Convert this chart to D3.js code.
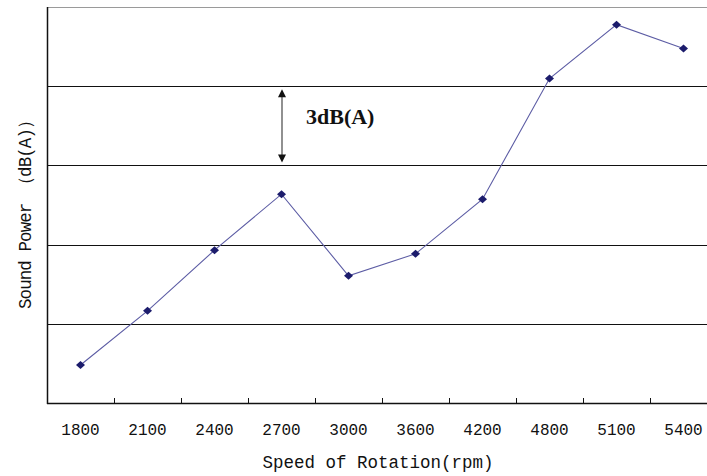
<!DOCTYPE html>
<html>
<head>
<meta charset="utf-8">
<script src="https://cdn.jsdelivr.net/npm/d3@7"></script>
<style>
  html, body { margin: 0; padding: 0; background: #fff; }
  svg { display: block; }
</style>
</head>
<body>
<svg id="chart" width="707" height="476"></svg>
<script>
// Data (relative sound power, dB(A); gridline spacing = 3 dB(A))
const categories = ["1800", "2100", "2400", "2700", "3000", "3600", "4200", "4800", "5100", "5400"];
const soundPower = [1.44, 3.49, 5.79, 7.91, 4.82, 5.65, 7.72, 12.29, 14.33, 13.43];
const gridValues = [3, 6, 9, 12];
const xTitle = "Speed of Rotation(rpm)";
const yTitle = "Sound Power （dB(A)）";
const annotationText = "3dB(A)";

const svg = d3.select("#chart");
const margin = { left: 47, top: 7, bottom: 403, right: 717 };

const x = d3.scaleBand().domain(categories).range([margin.left, margin.right]).padding(0);
const y = d3.scaleLinear().domain([0, 15]).range([margin.bottom, margin.top]);

// top border (grey)
svg.append("line")
  .attr("x1", margin.left).attr("x2", margin.right)
  .attr("y1", y(15) + 0.5).attr("y2", y(15) + 0.5)
  .attr("stroke", "#9a9a9a").attr("stroke-width", 1.2);

// gridlines
svg.append("g").selectAll("line").data(gridValues).join("line")
  .attr("x1", margin.left).attr("x2", margin.right)
  .attr("y1", d => Math.round(y(d)) + 0.5).attr("y2", d => Math.round(y(d)) + 0.5)
  .attr("stroke", "#111").attr("stroke-width", 1.2);

// x axis
const xAxis = d3.axisBottom(x).tickSize(0).tickPadding(0);
const gx = svg.append("g").attr("transform", `translate(0,${margin.bottom})`).call(xAxis);
gx.select(".domain").remove();
gx.selectAll("text")
  .attr("y", 32)
  .attr("dy", 0)
  .attr("fill", "#111")
  .style("font-family", "'Liberation Mono', monospace")
  .style("font-size", "16px");

// inward ticks at category boundaries
const boundaries = categories.slice(1).map(c => x(c));
svg.append("g").selectAll("line").data(boundaries).join("line")
  .attr("x1", d => Math.round(d) + 0.5).attr("x2", d => Math.round(d) + 0.5)
  .attr("y1", margin.bottom - 5).attr("y2", margin.bottom)
  .attr("stroke", "#111").attr("stroke-width", 1);

// axis lines
svg.append("line")
  .attr("x1", margin.left).attr("x2", margin.right)
  .attr("y1", margin.bottom + 0.5).attr("y2", margin.bottom + 0.5)
  .attr("stroke", "#111").attr("stroke-width", 1.5);
svg.append("line")
  .attr("x1", margin.left + 0.5).attr("x2", margin.left + 0.5)
  .attr("y1", margin.top).attr("y2", margin.bottom + 1)
  .attr("stroke", "#111").attr("stroke-width", 1.5);

// line
const pts = categories.map((c, i) => [x(c) + x.bandwidth() / 2, y(soundPower[i])]);
svg.append("path")
  .datum(pts)
  .attr("d", d3.line())
  .attr("fill", "none")
  .attr("stroke", "#5c5ca4")
  .attr("stroke-width", 1.1);

// markers (diamonds)
svg.append("g").selectAll("path").data(pts).join("path")
  .attr("transform", d => `translate(${d[0]},${d[1]})`)
  .attr("d", "M0,-4L4.5,0L0,4L-4.5,0Z")
  .attr("fill", "#1c1c6c");

// annotation arrow
const ax = 282;
const aTop = y(12) + 3, aBot = y(9) - 3;
svg.append("line")
  .attr("x1", ax).attr("x2", ax)
  .attr("y1", aTop + 6).attr("y2", aBot - 6)
  .attr("stroke", "#555").attr("stroke-width", 1.3);
svg.append("path")
  .attr("d", `M${ax},${aTop}L${ax + 4},${aTop + 8}L${ax - 4},${aTop + 8}Z`)
  .attr("fill", "#111");
svg.append("path")
  .attr("d", `M${ax},${aBot}L${ax + 4},${aBot - 8}L${ax - 4},${aBot - 8}Z`)
  .attr("fill", "#111");
svg.append("text")
  .attr("x", 306).attr("y", 124)
  .attr("fill", "#111")
  .style("font-family", "'Liberation Serif', 'Times New Roman', serif")
  .style("font-weight", "bold")
  .style("font-size", "22px")
  .text(annotationText);

// axis titles
svg.append("text")
  .attr("x", 378).attr("y", 468)
  .attr("text-anchor", "middle")
  .attr("fill", "#111")
  .style("font-family", "'Liberation Mono', monospace")
  .style("font-size", "17.5px")
  .text(xTitle);

svg.append("text")
  .attr("transform", "translate(31,210) rotate(-90)")
  .attr("text-anchor", "middle")
  .attr("fill", "#111")
  .style("font-family", "'Liberation Mono', monospace")
  .style("font-size", "17.5px")
  .attr("textLength", 198)
  .attr("lengthAdjust", "spacing")
  .text(yTitle);
</script>
</body>
</html>
